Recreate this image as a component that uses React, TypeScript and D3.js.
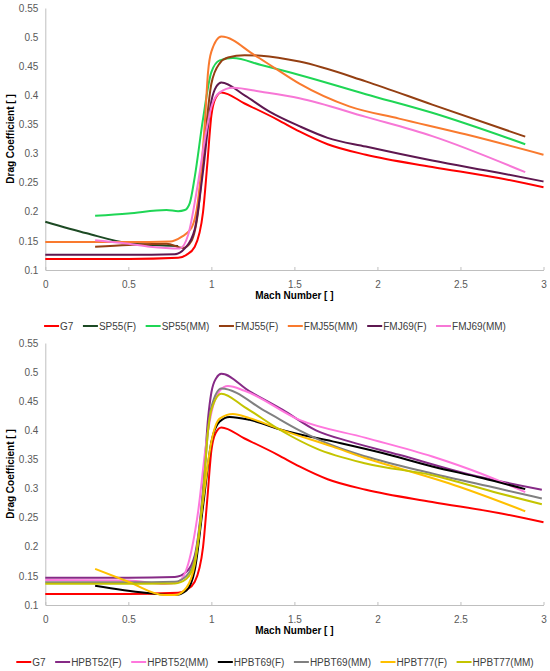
import { useEffect, useRef } from "react";
import * as d3 from "d3";

const machTicks = [0, 0.5, 1, 1.5, 2, 2.5, 3];
const cdTicks = [0.1, 0.15, 0.2, 0.25, 0.3, 0.35, 0.4, 0.45, 0.5, 0.55];

// [mach, drag coefficient]
const g7 = [
  [0, 0.119], [0.5, 0.119], [0.8, 0.121], [0.85, 0.126], [0.9, 0.14], [0.95, 0.2],
  [0.975, 0.28], [1.0, 0.365], [1.025, 0.395], [1.06, 0.405], [1.2, 0.386], [1.4, 0.358],
  [1.53, 0.338], [1.7, 0.316], [1.93, 0.298], [2.33, 0.277], [2.73, 0.258], [3.0, 0.242],
];
const sp55F = [[0, 0.183], [0.25, 0.163], [0.5, 0.146], [0.65, 0.143], [0.8, 0.141]];
const sp55MM = [
  [0.3, 0.193], [0.5, 0.197], [0.73, 0.203], [0.8, 0.201], [0.84, 0.203], [0.87, 0.215],
  [0.9, 0.26], [0.95, 0.36], [1.0, 0.44], [1.05, 0.46], [1.13, 0.464], [1.3, 0.452],
  [1.53, 0.435], [1.93, 0.402], [2.33, 0.37], [2.89, 0.316],
];
const fmj55F = [
  [0.3, 0.14], [0.5, 0.143], [0.73, 0.145], [0.83, 0.138], [0.88, 0.15], [0.92, 0.2],
  [0.96, 0.32], [1.0, 0.42], [1.05, 0.455], [1.1, 0.465], [1.2, 0.469], [1.3, 0.468],
  [1.53, 0.458], [1.93, 0.424], [2.33, 0.384], [2.89, 0.329],
];
const fmj55MM = [
  [0, 0.148], [0.5, 0.148], [0.75, 0.149], [0.82, 0.157], [0.88, 0.172], [0.92, 0.22],
  [0.96, 0.35], [0.98, 0.44], [1.0, 0.475], [1.06, 0.501], [1.26, 0.469], [1.37, 0.449],
  [1.53, 0.42], [1.83, 0.381], [2.13, 0.36], [2.53, 0.333], [3.0, 0.298],
];
const fmj69F = [
  [0, 0.126], [0.5, 0.126], [0.78, 0.127], [0.84, 0.137], [0.9, 0.17], [0.95, 0.27],
  [1.0, 0.39], [1.03, 0.415], [1.06, 0.422], [1.2, 0.4], [1.35, 0.372], [1.53, 0.347],
  [1.7, 0.327], [1.93, 0.312], [2.33, 0.288], [2.73, 0.267], [3.0, 0.252],
];
const fmj69MM = [
  [0.3, 0.151], [0.5, 0.145], [0.63, 0.14], [0.81, 0.137], [0.86, 0.16], [0.92, 0.25],
  [0.97, 0.34], [1.0, 0.38], [1.05, 0.405], [1.13, 0.413], [1.3, 0.406], [1.53, 0.395],
  [1.93, 0.363], [2.33, 0.33], [2.89, 0.268],
];

const hpbt52F = [
  [0, 0.147], [0.5, 0.147], [0.78, 0.148], [0.85, 0.157], [0.9, 0.185], [0.95, 0.3],
  [0.98, 0.42], [1.0, 0.465], [1.03, 0.49], [1.06, 0.497], [1.23, 0.467], [1.43, 0.435],
  [1.63, 0.4], [1.83, 0.381], [2.13, 0.358], [2.53, 0.326], [2.99, 0.298],
];
const hpbt52MM = [
  [0, 0.143], [0.5, 0.142], [0.72, 0.136], [0.8, 0.14], [0.86, 0.17], [0.92, 0.26],
  [0.97, 0.38], [1.0, 0.43], [1.05, 0.468], [1.1, 0.476], [1.2, 0.468], [1.53, 0.418],
  [1.93, 0.387], [2.33, 0.355], [2.63, 0.325], [2.89, 0.294],
];
const hpbt69F = [
  [0.3, 0.133], [0.6, 0.121], [0.78, 0.117], [0.85, 0.125], [0.9, 0.16], [0.95, 0.27],
  [1.0, 0.38], [1.05, 0.415], [1.11, 0.423], [1.23, 0.418], [1.43, 0.4], [1.73, 0.381],
  [2.03, 0.361], [2.33, 0.338], [2.63, 0.318], [2.89, 0.299],
];
const hpbt69MM = [
  [0, 0.139], [0.5, 0.139], [0.78, 0.14], [0.85, 0.15], [0.9, 0.18], [0.95, 0.29],
  [0.98, 0.4], [1.0, 0.44], [1.06, 0.472], [1.33, 0.432], [1.53, 0.4], [1.73, 0.374],
  [1.93, 0.355], [2.33, 0.326], [2.73, 0.3], [2.99, 0.283],
];
const hpbt77F = [
  [0.3, 0.162], [0.5, 0.14], [0.72, 0.117], [0.78, 0.117], [0.85, 0.13], [0.9, 0.17],
  [0.95, 0.28], [1.0, 0.38], [1.05, 0.42], [1.13, 0.428], [1.23, 0.421], [1.43, 0.4],
  [1.73, 0.372], [1.93, 0.352], [2.13, 0.335], [2.43, 0.309], [2.89, 0.261],
];
const hpbt77MM = [
  [0, 0.1365], [0.5, 0.1365], [0.78, 0.137], [0.85, 0.145], [0.9, 0.175], [0.95, 0.29],
  [0.98, 0.4], [1.0, 0.435], [1.06, 0.463], [1.2, 0.44], [1.43, 0.398], [1.63, 0.369],
  [1.93, 0.343], [2.33, 0.323], [2.73, 0.292], [2.99, 0.273],
];

const topSeries = [
  { name: "G7", color: "#ff0000", values: g7 },
  { name: "SP55(F)", color: "#1d4a24", values: sp55F },
  { name: "SP55(MM)", color: "#1fd655", values: sp55MM },
  { name: "FMJ55(F)", color: "#943f12", values: fmj55F },
  { name: "FMJ55(MM)", color: "#f97a2e", values: fmj55MM },
  { name: "FMJ69(F)", color: "#5e1850", values: fmj69F },
  { name: "FMJ69(MM)", color: "#f777d6", values: fmj69MM },
];

const bottomSeries = [
  { name: "G7", color: "#ff0000", values: g7 },
  { name: "HPBT52(F)", color: "#862a86", values: hpbt52F },
  { name: "HPBT52(MM)", color: "#ff77dd", values: hpbt52MM },
  { name: "HPBT69(F)", color: "#000000", values: hpbt69F },
  { name: "HPBT69(MM)", color: "#808080", values: hpbt69MM },
  { name: "HPBT77(F)", color: "#ffc000", values: hpbt77F },
  { name: "HPBT77(MM)", color: "#c4c400", values: hpbt77MM },
];

const font = "Liberation Sans, Arial, sans-serif";

const drawPanel = (svg, series, yTop, yBottom, legendY) => {
  const x = d3.scaleLinear().domain([0, 3]).range([45.3, 543.5]);
  const y = d3.scaleLinear().domain([0.1, 0.55]).range([yBottom, yTop]);

  const g = svg.append("g");

  const yAxis = g
    .append("g")
    .attr("transform", `translate(${x(0)},0)`)
    .call(d3.axisLeft(y).tickValues(cdTicks).tickSize(0).tickPadding(7).tickFormat((d) => String(d)));
  yAxis.select(".domain").attr("stroke", "#bfbfbf");
  yAxis.selectAll("text").attr("fill", "#595959").style("font", `10px ${font}`);

  const xAxis = g
    .append("g")
    .attr("transform", `translate(0,${y(0.1)})`)
    .call(d3.axisBottom(x).tickValues(machTicks).tickSizeInner(-3).tickSizeOuter(0).tickPadding(11).tickFormat((d) => String(d)));
  xAxis.select(".domain").attr("stroke", "#bfbfbf");
  xAxis.selectAll("line").attr("stroke", "#bfbfbf");
  xAxis.selectAll("text").attr("fill", "#595959").style("font", `10px ${font}`);

  g.append("text")
    .attr("x", (x(0) + x(3)) / 2)
    .attr("y", yBottom + 29)
    .attr("text-anchor", "middle")
    .style("font", `bold 10px ${font}`)
    .attr("fill", "#000")
    .text("Mach Number [ ]");

  g.append("text")
    .attr("transform", `translate(14,${(yTop + yBottom) / 2}) rotate(-90)`)
    .attr("text-anchor", "middle")
    .style("font", `bold 10px ${font}`)
    .attr("fill", "#000")
    .text("Drag Coefficient [ ]");

  const line = d3
    .line()
    .x((d) => x(d[0]))
    .y((d) => y(d[1]))
    .curve(d3.curveMonotoneX);

  g.selectAll(".series")
    .data(series)
    .enter()
    .append("path")
    .attr("class", "series")
    .attr("fill", "none")
    .attr("stroke", (d) => d.color)
    .attr("stroke-width", 2)
    .attr("stroke-linejoin", "round")
    .attr("d", (d) => line(d.values));

  // legend, centred across the figure
  const leg = g.append("g");
  const items = series.map((s) => {
    const item = leg.append("g");
    item.append("line").attr("x1", 0).attr("x2", 15).attr("y1", 0).attr("y2", 0)
      .attr("stroke", s.color).attr("stroke-width", 2);
    const t = item.append("text").attr("x", 16).attr("y", 3.5)
      .style("font", `10px ${font}`).attr("fill", "#404040").text(s.name);
    return { item, w: 16 + (t.node() as SVGTextElement).getComputedTextLength() };
  });
  const gap = 9.5;
  const total = d3.sum(items, (d) => d.w) + gap * (items.length - 1);
  let cx = 275 - total / 2;
  items.forEach((d) => {
    d.item.attr("transform", `translate(${cx},${legendY})`);
    cx += d.w + gap;
  });
};

const App = () => {
  const ref = useRef(null);

  useEffect(() => {
    document.body.style.margin = "0";
    const svg = d3.select(ref.current);
    svg.selectAll("*").remove();
    drawPanel(svg, topSeries, 8, 270, 326);
    drawPanel(svg, bottomSeries, 343, 605, 662);
  }, []);

  return <svg ref={ref} width={550} height={671} style={{ display: "block", background: "#fff" }}></svg>;
};

export default App;
